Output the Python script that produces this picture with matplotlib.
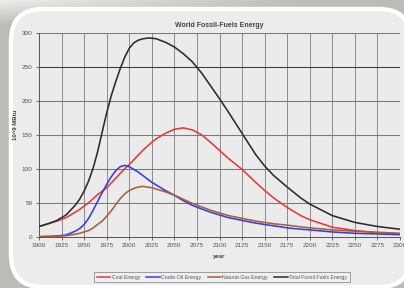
import numpy as np
import matplotlib
matplotlib.use("Agg")
import matplotlib.pyplot as plt
from matplotlib.patches import FancyBboxPatch
from matplotlib.lines import Line2D

plt.rcParams['font.family'] = ['Liberation Sans', 'DejaVu Sans']

# ---- data ----
years = [1900, 1910, 1920, 1930, 1940, 1945, 1950, 1955, 1960, 1965, 1970, 1975, 1980,
         1985, 1990, 1995, 2000, 2005, 2010, 2015, 2020, 2025, 2030, 2040, 2050,
         2060, 2070, 2080, 2090, 2100, 2110, 2125, 2140, 2150, 2160, 2175, 2190,
         2200, 2225, 2250, 2275, 2300]

coal = [15, 19, 23, 28, 36, 40, 45, 50, 56, 62, 67, 72, 79,
        86, 93, 100, 106, 113, 120, 127, 133, 139, 144, 152, 158,
        160, 157, 150, 139, 127, 115, 99, 80, 68, 57, 43, 31,
        25, 14, 9, 6, 4]

oil = [0, 0.5, 1, 2.5, 8, 12, 18, 27, 39, 52, 65, 77, 88,
       97, 103, 105, 103, 99, 95, 90, 85, 80, 76, 68, 61,
       53, 46, 41, 36, 32, 28, 24, 20, 18, 16, 13, 11,
       10, 7, 5, 4, 3]

gas = [0, 0.3, 0.7, 1.5, 3.5, 5, 7, 9, 13, 18, 23, 30, 38,
       47, 56, 63, 68, 71, 73, 74, 73, 72, 70, 66, 61,
       55, 49, 44, 39, 35, 31, 27, 23, 21, 19, 17, 14.5,
       13, 10, 8, 6.5, 5]

total = [15, 19, 24, 32, 46, 55, 67, 82, 101, 125, 154, 182, 207,
         228, 247, 264, 277, 285, 289, 291, 292, 292, 291, 286, 279,
         269, 257, 241, 222, 203, 183, 152, 121, 104, 90, 73, 57,
         48, 31, 21, 15, 11]

series_names = ["Coal Energy", "Crude-Oil Energy", "Natural-Gas Energy",
                "Total Fossil Fuels Energy"]
series_colors = ["#e23a3c", "#3b3be0", "#a5603a", "#2b2b2b"]

x_ticks = list(range(1900, 2301, 25))
y_ticks = [0, 50, 100, 150, 200, 250, 300]

W, H = 404, 288
fig = plt.figure(figsize=(W / 100, H / 100), dpi=100)
fig.patch.set_facecolor("#bcbcb7")

# background decoration
bg = fig.add_axes([0, 0, 1, 1])
bg.set_xlim(0, W)
bg.set_ylim(H, 0)
bg.axis("off")
bg.set_zorder(0)
xx = np.linspace(0, 1, 200)
yy = np.linspace(0, 1, 40)[:, None]
base = np.array([0.74, 0.74, 0.72])
light = np.array([0.93, 0.93, 0.92])
wgt = np.clip((1 - xx[None, :] * 1.3), 0, 1) * np.clip(1 - yy * 1.6, 0, 1)
grad = base[None, None, :] * (1 - wgt[..., None]) + light[None, None, :] * wgt[..., None]
bg.imshow(grad, extent=[0, W, 40, 0], aspect="auto", zorder=0)
bg.add_patch(plt.Rectangle((0, 40), W, H - 40, color="#bcbcb7", zorder=0.5))
frame = FancyBboxPatch((11, 9), 400, 278,
                       boxstyle="round,pad=0,rounding_size=32",
                       facecolor="#ececec", edgecolor="white", linewidth=3.2,
                       zorder=1)
bg.add_patch(frame)

# main axes
ax = fig.add_axes([39 / W, 1 - 236.7 / H, 361 / W, 204 / H])
ax.set_zorder(2)
ax.set_facecolor("#ebebeb")

for vals, name, col in zip([coal, oil, gas, total], series_names, series_colors):
    ax.plot(years, vals, color=col, lw=1.15, label=name, zorder=3,
            solid_capstyle="round", solid_joinstyle="round")

ax.set_xlim(1900, 2300)
ax.set_ylim(0, 300)
ax.set_xticks(x_ticks)
ax.set_yticks(y_ticks)
for xv in x_ticks[1:]:
    ax.axvline(xv, color="#8c8c8c", lw=0.7, zorder=1)
for yv in y_ticks[1:]:
    c = "#3a3a3a" if yv == 250 else "#7a7a7a"
    ax.axhline(yv, color=c, lw=0.75, zorder=1)

for s in ["top", "right"]:
    ax.spines[s].set_visible(False)
for s in ["left", "bottom"]:
    ax.spines[s].set_color("#555555")
    ax.spines[s].set_linewidth(0.7)
ax.tick_params(axis="both", labelsize=4.6, colors="#555555", length=2, width=0.6,
               pad=2.5, labelcolor="#555555")

ax.set_title("World Fossil-Fuels Energy", fontsize=5, fontweight="bold",
             color="#444444", pad=4)
ax.set_xlabel("year", fontsize=4.3, fontweight="bold", color="#444444", labelpad=4)
ax.set_ylabel("10^9 MBtu", fontsize=4.3, fontweight="bold", color="#444444",
              labelpad=2)
ax.yaxis.set_label_coords(-0.058, 0.55)

handles = [Line2D([], [], color=c, lw=1.1) for c in series_colors]
leg = fig.legend(handles, series_names, loc="center",
                 bbox_to_anchor=(222 / W, 1 - 277 / H), ncol=4, fontsize=3.7,
                 frameon=True, fancybox=False, handlelength=2.6,
                 handletextpad=0.3, columnspacing=1.2, borderpad=0.55)
leg.get_frame().set_edgecolor("#777777")
leg.get_frame().set_linewidth(0.6)
leg.get_frame().set_facecolor("#f2f2f2")
for t in leg.get_texts():
    t.set_color("#555555")
leg.set_zorder(5)

fig.savefig("out.png", dpi=100)
